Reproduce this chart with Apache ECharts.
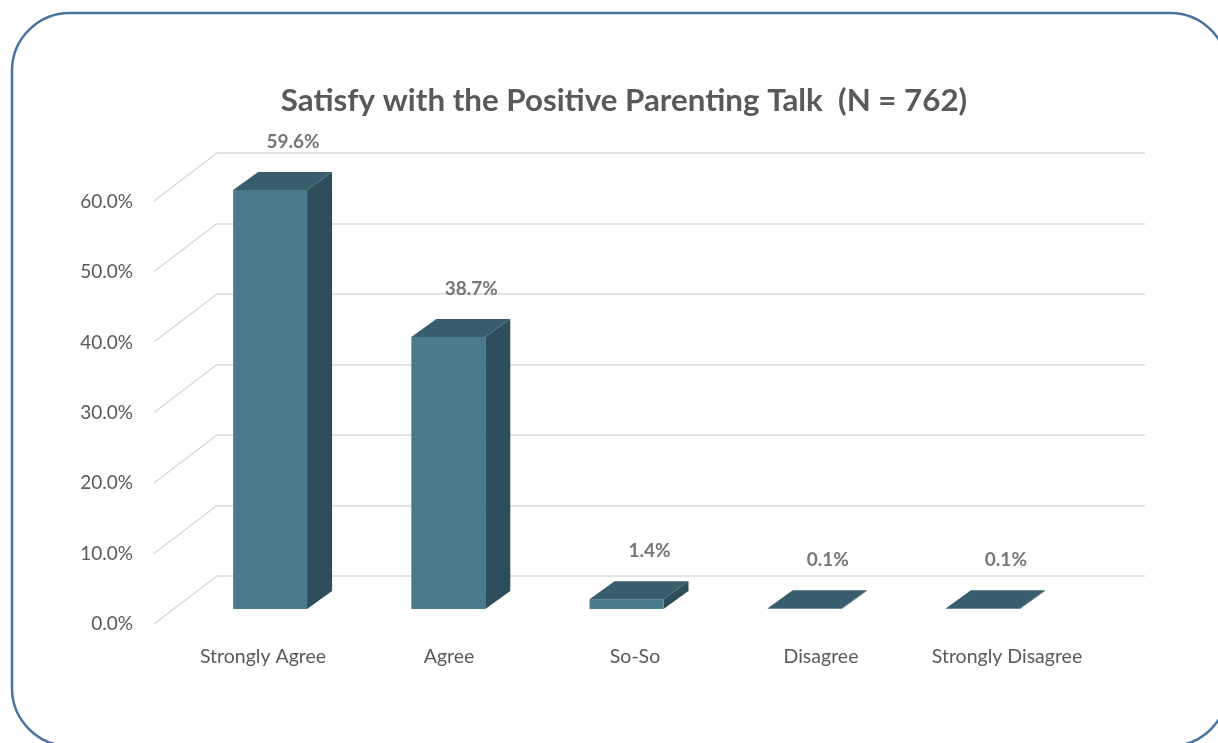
<!DOCTYPE html>
<html>
<head>
<meta charset="utf-8">
<script src="https://cdn.jsdelivr.net/npm/echarts@6/dist/echarts.min.js"></script>
<style>
  html, body { margin: 0; padding: 0; background: #ffffff; }
  #chart { width: 1218px; height: 743px; }
</style>
</head>
<body>
<div id="chart"></div>
<script>
// Survey categories and share of responses (%)
const categories = ['Strongly Agree', 'Agree', 'So-So', 'Disagree', 'Strongly Disagree'];
const percentages = [59.6, 38.7, 1.4, 0.1, 0.1];
// Value ticks of the back wall and left axis (%)
const tickValues = [0, 10, 20, 30, 40, 50, 60];
const titleText = 'Satisfy with the Positive Parenting Talk  (N = 762)';

// Oblique depth offsets (px) used for the 3D look
const BAR_DX = 25, BAR_DY = -18;     // bar depth
const WALL_DX = -63, WALL_DY = 48;   // from back wall to the front edge of the floor

const FONT = 'Lato, "Open Sans", sans-serif';
const COL_FRONT = '#497b8d';
const COL_TOP = '#385e6d';
const COL_SIDE = '#2d4d5a';

const chart = echarts.init(document.getElementById('chart'), null, { renderer: 'canvas' });

const option = {
  backgroundColor: '#ffffff',
  animation: false,
  title: {
    text: titleText,
    left: 619, top: 80, textAlign: 'center',
    textStyle: { fontFamily: FONT, fontSize: 31.3, fontWeight: 'bold', color: '#595959' }
  },
  graphic: [{
    type: 'rect', silent: true, z: -10,
    shape: { x: 12, y: 13, width: 1216, height: 733, r: 58 },
    style: { fill: 'none', stroke: '#4a74a0', lineWidth: 2.5 }
  }],
  grid: [
    // front plane: axis labels
    { left: 170, right: 118, top: 202, bottom: 119 },
    // back wall
    { left: 217, right: 73, top: 153, bottom: 167 },
    // bar plane
    { left: 181, right: 146, top: 187.2, bottom: 134 }
  ],
  xAxis: [
    {
      gridIndex: 0, type: 'category', data: categories,
      axisLine: { show: false }, axisTick: { show: false },
      axisLabel: { interval: 0, margin: 23, fontFamily: FONT, fontSize: 19.5, color: '#595959' }
    },
    { gridIndex: 1, type: 'value', min: 0, max: 1, show: false },
    { gridIndex: 2, type: 'category', data: categories, show: false }
  ],
  yAxis: [
    {
      gridIndex: 0, type: 'value', min: 0, max: 60, interval: 10,
      axisLine: { show: false }, axisTick: { show: false }, splitLine: { show: false },
      axisLabel: {
        margin: 37, fontFamily: FONT, fontSize: 19, color: '#595959',
        formatter: v => v.toFixed(1) + '%'
      }
    },
    {
      gridIndex: 1, type: 'value', min: 0, max: 60, interval: 10,
      axisLine: { show: false }, axisTick: { show: false }, axisLabel: { show: false },
      splitLine: { show: true, lineStyle: { color: '#d9d9d9', width: 1.5 } }
    },
    { gridIndex: 2, type: 'value', min: 0, max: 60, show: false }
  ],
  series: [
    {
      // diagonal floor/side-wall lines from the back wall to the front edge
      type: 'custom', xAxisIndex: 1, yAxisIndex: 1, z: 1, silent: true,
      data: tickValues.map(v => [0, v]),
      renderItem: (params, api) => {
        const p = api.coord([0, api.value(1)]);
        return {
          type: 'line',
          shape: { x1: p[0], y1: p[1], x2: p[0] + WALL_DX, y2: p[1] + WALL_DY },
          style: { stroke: '#d9d9d9', lineWidth: 1.5 }
        };
      }
    },
    {
      // 3D column bars
      type: 'custom', xAxisIndex: 2, yAxisIndex: 2, z: 5, clip: false,
      data: percentages.map((v, i) => [i, v]),
      renderItem: (params, api) => {
        const i = api.value(0), v = api.value(1);
        const base = api.coord([i, 0]);
        const top = api.coord([i, v]);
        const w = api.size([1, 0])[0] * 0.415;
        const x0 = base[0] - w / 2, x1 = base[0] + w / 2;
        const yb = base[1], yt = top[1];
        return {
          type: 'group',
          children: [
            {
              type: 'polygon',
              shape: { points: [[x1, yt], [x1 + BAR_DX, yt + BAR_DY], [x1 + BAR_DX, yb + BAR_DY], [x1, yb]] },
              style: { fill: COL_SIDE }
            },
            {
              type: 'rect',
              shape: { x: x0, y: yt, width: w, height: yb - yt },
              style: { fill: COL_FRONT }
            },
            {
              type: 'polygon',
              shape: { points: [[x0, yt], [x1, yt], [x1 + BAR_DX, yt + BAR_DY], [x0 + BAR_DX, yt + BAR_DY]] },
              style: { fill: COL_TOP }
            },
            {
              type: 'text',
              style: {
                x: base[0] + BAR_DX - 2, y: yt + BAR_DY - 30,
                text: v.toFixed(1) + '%',
                align: 'center', verticalAlign: 'middle',
                fontFamily: FONT, fontSize: 19, fontWeight: 'bold', fill: '#767676'
              }
            }
          ]
        };
      }
    }
  ]
};

chart.setOption(option);
</script>
</body>
</html>
